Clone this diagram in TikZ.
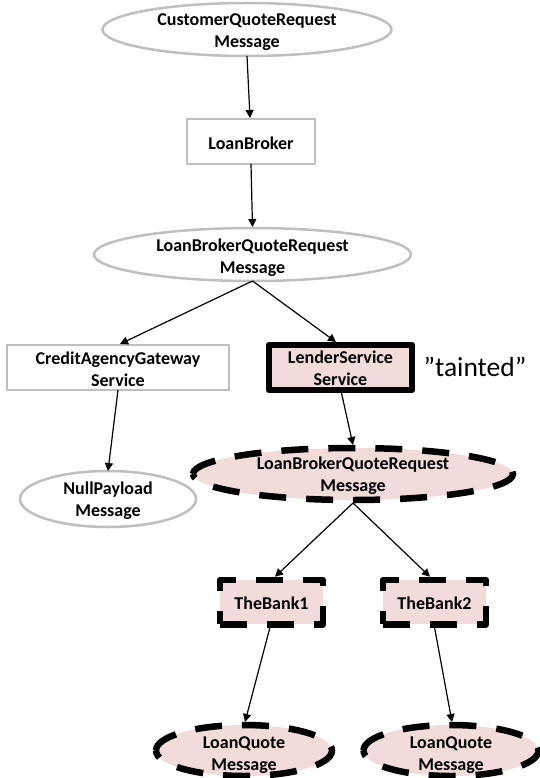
\documentclass[tikz,border=0pt]{standalone}
\usepackage{fontspec}
\setmainfont{Carlito}
\usetikzlibrary{shapes.geometric,arrows.meta}
\definecolor{tint}{HTML}{F2DCDB}
\definecolor{edgegray}{HTML}{BFBFBF}
\tikzset{
 every node/.style={inner sep=0pt,outer sep=0pt},
 txt/.style={font=\fontsize{18pt}{22pt}\selectfont\bfseries,align=center},
 plainell/.style={ellipse,draw=edgegray,line width=2.5pt,fill=white},
 plainbox/.style={rectangle,draw=edgegray,line width=2.5pt,fill=white},
 taintell/.style={ellipse,fill=tint},
 taintline/.style={draw=black,line width=6.5pt,dash pattern=on 27pt off 20pt},
 taintbox/.style={rectangle,draw=black,line width=6.5pt,fill=tint,dash pattern=on 27pt off 20pt,line join=round},
 boldbox/.style={rectangle,draw=black,line width=6.5pt,fill=tint,line join=round},
 conn/.style={draw=black,line width=1.2pt,-{Triangle[length=8pt,width=8pt]}},
}
\begin{document}
\begin{tikzpicture}[x=1pt,y=-1pt]
\useasboundingbox (0,0) rectangle (540,778);
\node[plainell,minimum width=289pt,minimum height=53pt] (cqr) at (247,29.5) {};
\node[txt] (cqrT) at ([yshift=-3pt]cqr.center) {CustomerQuoteRequest\\Message};
\node[plainbox,minimum width=128pt,minimum height=45pt] (lb) at (251,141.5) {};
\node[txt] (lbT) at ([yshift=-1.5pt]lb.center) {LoanBroker};
\node[plainell,minimum width=317pt,minimum height=53pt] (lbq) at (252.5,254.5) {};
\node[txt] (lbqT) at ([yshift=-3pt]lbq.center) {LoanBrokerQuoteRequest\\Message};
\node[plainbox,minimum width=222pt,minimum height=45pt] (ca) at (118,367.5) {};
\node[txt] (caT) at ([yshift=-1.5pt]ca.center) {CreditAgencyGateway\\Service};
\node[boldbox,minimum width=143pt,minimum height=45pt] (ls) at (340.5,367.5) {};
\node[txt] (lsT) at ([yshift=-1pt]ls.center) {LenderService\\Service};
\node[plainell,minimum width=176pt,minimum height=56pt] (np) at (108,499) {};
\node[txt] (npT) at ([yshift=-2pt]np.center) {NullPayload\\Message};
\node[taintell,minimum width=320pt,minimum height=52pt] (lbq2) at (353,474) {};
\draw[taintline] (lbq2.west) arc[start angle=180,end angle=-180,x radius=160pt,y radius=26pt];
\node[txt] (lbq2T) at ([yshift=-2pt]lbq2.center) {LoanBrokerQuoteRequest\\Message};
\node[taintbox,minimum width=103pt,minimum height=44.5pt] (b1) at (271.5,602) {};
\node[txt] (b1T) at ([yshift=-1.5pt]b1.center) {TheBank1};
\node[taintbox,minimum width=103pt,minimum height=44.5pt] (b2) at (434.5,602) {};
\node[txt] (b2T) at ([yshift=-1.5pt]b2.center) {TheBank2};
\node[taintell,minimum width=176pt,minimum height=51pt] (q1) at (244,750.5) {};
\draw[taintline] (q1.west) arc[start angle=180,end angle=-180,x radius=88pt,y radius=25.5pt];
\node[txt] (q1T) at ([yshift=-4.5pt]q1.center) {LoanQuote\\Message};
\node[taintell,minimum width=175pt,minimum height=51pt] (q2) at (451,750.5) {};
\draw[taintline] (q2.west) arc[start angle=180,end angle=-180,x radius=87.5pt,y radius=25.5pt];
\node[txt] (q2T) at ([yshift=-4.5pt]q2.center) {LoanQuote\\Message};
\node[font=\fontsize{27.5pt}{30pt}\selectfont] (t) at (475,367) {”tainted”};
\draw[conn] (cqr.south) -- ([xshift=-1pt,yshift=1pt]lb.north);
\draw[conn] (lb.south) -- ([yshift=1pt]lbq.north);
\draw[conn] (lbq.south) -- ([xshift=2pt,yshift=1pt]ca.north);
\draw[conn] (lbq.south) -- ([xshift=-4.5pt,yshift=3pt]ls.north);
\draw[conn] ([xshift=1pt,yshift=-3pt]ls.south) -- ([yshift=3pt]lbq2.north);
\draw[conn] (ca.south) -- (np.north);
\draw[conn] ([yshift=-3pt]lbq2.south) -- ([xshift=3.5pt,yshift=3pt]b1.north);
\draw[conn] ([yshift=-3pt]lbq2.south) -- ([xshift=-4.5pt,yshift=3pt]b2.north);
\draw[conn] ([xshift=-1.5pt,yshift=-3pt]b1.south) -- ([xshift=1pt,yshift=3pt]q1.north);
\draw[conn] ([yshift=-3pt]b2.south) -- ([xshift=1pt,yshift=3pt]q2.north);
\end{tikzpicture}
\end{document}
